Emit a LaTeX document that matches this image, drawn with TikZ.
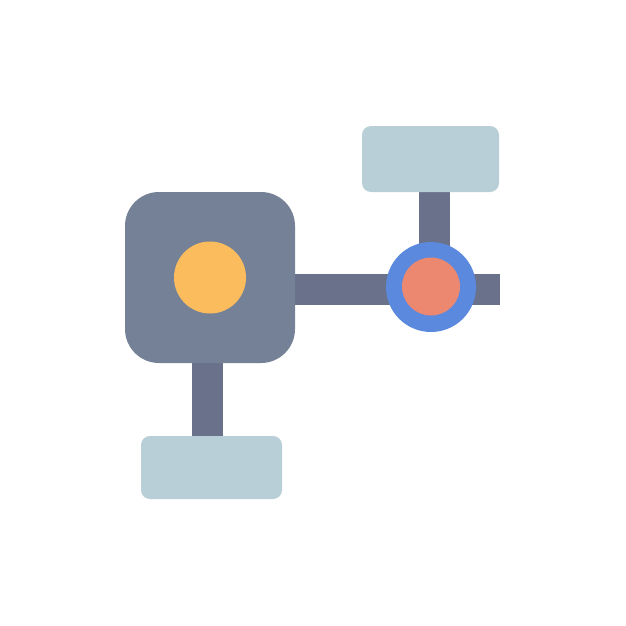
\documentclass[tikz,border=0pt]{standalone}
\usetikzlibrary{backgrounds}
\definecolor{sqc}{HTML}{748196}
\definecolor{barc}{HTML}{69728A}
\definecolor{lightc}{HTML}{B8CFD8}
\definecolor{orc}{HTML}{FBBC5E}
\definecolor{bluec}{HTML}{5B89DE}
\definecolor{redc}{HTML}{EC8870}
\tikzset{
  bar/.style={draw=barc, line width=31pt, line cap=butt},
  lightbox/.style={fill=lightc, draw=none, rounded corners=9pt, inner sep=0pt},
}
\begin{document}
\begin{tikzpicture}[x=1pt,y=-1pt]
\useasboundingbox (0,0) rectangle (626,626);
\node[fill=sqc, draw=none, rounded corners=34pt, minimum width=170pt, minimum height=171pt, inner sep=0pt] (sq) at (210,277.5) {};
\node[circle, fill=orc, draw=none, minimum size=72pt, inner sep=0pt] (or) at (210,277.5) {};
\node[lightbox, minimum width=137pt, minimum height=66pt] (top) at (430.5,159) {};
\node[lightbox, minimum width=141pt, minimum height=63pt] (bot) at (211.5,467.5) {};
\node[circle, fill=bluec, draw=none, minimum size=90pt, inner sep=0pt] (blue) at (431,287) {};
\node[circle, fill=redc, draw=none, minimum size=58pt, inner sep=0pt] (red) at (431,286.5) {};
\coordinate (hend) at (500,289);
\coordinate (bx) at (207,0);
\coordinate (tx) at (434,0);
\begin{scope}[on background layer]
\fill[white] (0,0) rectangle (626,626);
\draw[bar] (sq.center |- hend) -- (hend);
\draw[bar] (sq.center -| bx) -- (bot.center -| bx);
\draw[bar] (top.center -| tx) -- (blue.center -| tx);
\end{scope}
\end{tikzpicture}
\end{document}
